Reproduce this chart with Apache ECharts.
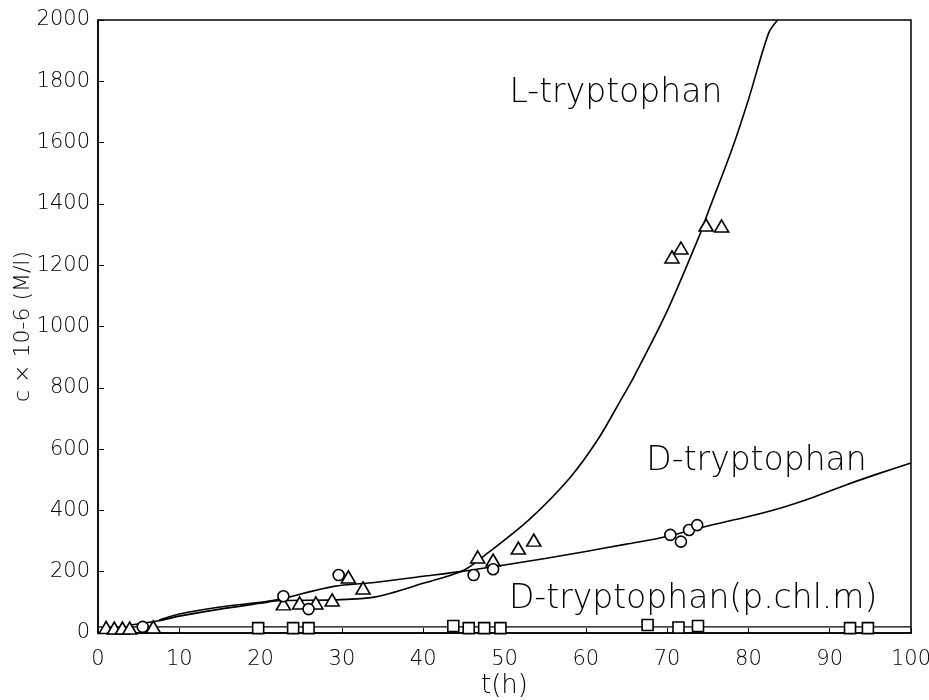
<!DOCTYPE html>
<html>
<head>
<meta charset="utf-8">
<script src="https://cdn.jsdelivr.net/npm/echarts@6/dist/echarts.min.js"></script>
<style>
  html, body { margin: 0; padding: 0; background: #fff; }
  #chart { width: 929px; height: 700px; }
</style>
</head>
<body>
<div id="chart"></div>
<script>
// Measured concentrations (c x 10^-6 M/l) against time (h)
const lTrpTime = [1, 2, 3, 3.9, 6.8, 22.8, 24.8, 26.8, 28.8, 30.8, 32.6, 46.7, 48.6, 51.7, 53.6, 70.6, 71.7, 74.8, 76.7];
const lTrpConc = [18, 16, 16, 16, 20, 95, 98, 98, 108, 183, 147, 248, 238, 277, 303, 1227, 1256, 1331, 1328];

const dTrpTime = [5.5, 22.8, 25.9, 29.6, 46.2, 48.6, 70.4, 71.7, 72.7, 73.7];
const dTrpConc = [20, 120, 78, 189, 189, 208, 320, 298, 336, 352];

const dChlTime = [19.7, 24, 25.9, 43.7, 45.6, 47.5, 49.5, 67.6, 71.4, 73.8, 92.5, 94.7];
const dChlConc = [16, 16, 16, 23, 16, 16, 16, 26, 18, 23, 16, 16];

// Fitted curves
const lFitTime = [4, 7.5, 10, 15, 20, 22, 29, 34, 40, 45, 48, 53, 58, 61.5, 64.3, 66, 70, 74, 75, 78, 80, 82.5, 83.6];
const lFitConc = [26, 40, 55, 78, 97, 105, 108, 117, 162, 205, 262, 369, 505, 632, 760, 840, 1050, 1298, 1370, 1580, 1740, 1958, 2000];

const dFitTime = [7.5, 10, 15, 20, 22, 29, 34, 40, 45, 50, 55, 60, 65, 70, 74.5, 80, 84, 88, 92, 96, 100];
const dFitConc = [42, 62, 85, 100, 108, 152, 165, 185, 202, 222, 243, 266, 290, 315, 346, 380, 408, 443, 483, 520, 555];

const dChlFitTime = [0, 100];
const dChlFitConc = [20, 20];

const xTicks = [0, 10, 20, 30, 40, 50, 60, 70, 80, 90, 100];
const yTicks = [0, 200, 400, 600, 800, 1000, 1200, 1400, 1600, 1800, 2000];

const curveLabels = [
  { text: 'L-tryptophan', t: 63.7, c: 1762 },
  { text: 'D-tryptophan', t: 81.0, c: 561 },
  { text: 'D-tryptophan(p.chl.m)', t: 73.2, c: 108 }
];

const zip = (a, b) => a.map((v, i) => [v, b[i]]);

const tickFont = '"DejaVu Sans", "Liberation Sans", sans-serif';
const labelFont = '"DejaVu Sans", "Noto Sans", sans-serif';

const chart = echarts.init(document.getElementById('chart'), null, { renderer: 'canvas' });

const markerStyle = { color: '#fff', borderColor: '#000', borderWidth: 1.6, opacity: 1 };

chart.setOption({
  animation: false,
  backgroundColor: '#fff',
  grid: { left: 98, top: 20, right: 18, bottom: 67, outerBoundsMode: 'none', containLabel: false,
    show: true, borderColor: '#000', borderWidth: 1.5, backgroundColor: 'transparent' },
  xAxis: {
    type: 'value', min: 0, max: 100, interval: 10,
    name: 't(h)', nameLocation: 'middle', nameGap: 40, nameMoveOverlap: false,
    nameTextStyle: { fontFamily: labelFont, fontSize: 26, color: '#000', fontWeight: 300 },
    axisLine: { show: true, lineStyle: { color: '#000', width: 1.5 } },
    axisTick: { show: true, inside: true, length: 5, lineStyle: { color: '#000' } },
    axisLabel: { fontFamily: tickFont, fontSize: 21, color: '#000', margin: 16, fontWeight: 300,
      formatter: v => xTicks.includes(v) ? String(v) : '' },
    splitLine: { show: false }
  },
  yAxis: {
    type: 'value', min: 0, max: 2000, interval: 200,
    name: 'c × 10-6 (M/l)', nameLocation: 'middle', nameGap: 64, nameMoveOverlap: false,
    nameTextStyle: { fontFamily: labelFont, fontSize: 22, color: '#000', fontWeight: 300 },
    axisLine: { show: true, lineStyle: { color: '#000', width: 1.5 } },
    axisTick: { show: true, inside: true, length: 6, lineStyle: { color: '#000' } },
    axisLabel: { fontFamily: tickFont, fontSize: 21, color: '#000', margin: 8, fontWeight: 300,
      formatter: v => yTicks.includes(v) ? String(v) : '' },
    splitLine: { show: false }
  },
  series: [
    { type: 'line', data: zip(lFitTime, lFitConc), smooth: 0.3, symbol: 'none',
      lineStyle: { color: '#000', width: 1.6 }, z: 2 },
    { type: 'line', data: zip(dFitTime, dFitConc), smooth: 0.3, symbol: 'none',
      lineStyle: { color: '#000', width: 1.6 }, z: 2 },
    { type: 'line', data: zip(dChlFitTime, dChlFitConc), symbol: 'none',
      lineStyle: { color: '#000', width: 1.4 }, z: 2 },
    { type: 'scatter', data: zip(lTrpTime, lTrpConc), symbol: 'triangle', symbolSize: [14, 12],
      itemStyle: markerStyle, z: 3 },
    { type: 'scatter', data: zip(dTrpTime, dTrpConc), symbol: 'circle', symbolSize: 11,
      itemStyle: markerStyle, z: 3 },
    { type: 'scatter', data: zip(dChlTime, dChlConc), symbol: 'rect', symbolSize: 11,
      itemStyle: markerStyle, z: 3 },
    // curve name labels placed in data coordinates
    { type: 'scatter', symbolSize: 0, silent: true, itemStyle: { opacity: 1 },
      data: curveLabels.map(l => ({ value: [l.t, l.c], name: l.text })),
      label: { show: true, position: 'inside', formatter: p => p.name, opacity: 1,
        fontFamily: labelFont, fontSize: 33, fontWeight: 300, color: '#000' }, z: 4 }
  ]
});
</script>
</body>
</html>
